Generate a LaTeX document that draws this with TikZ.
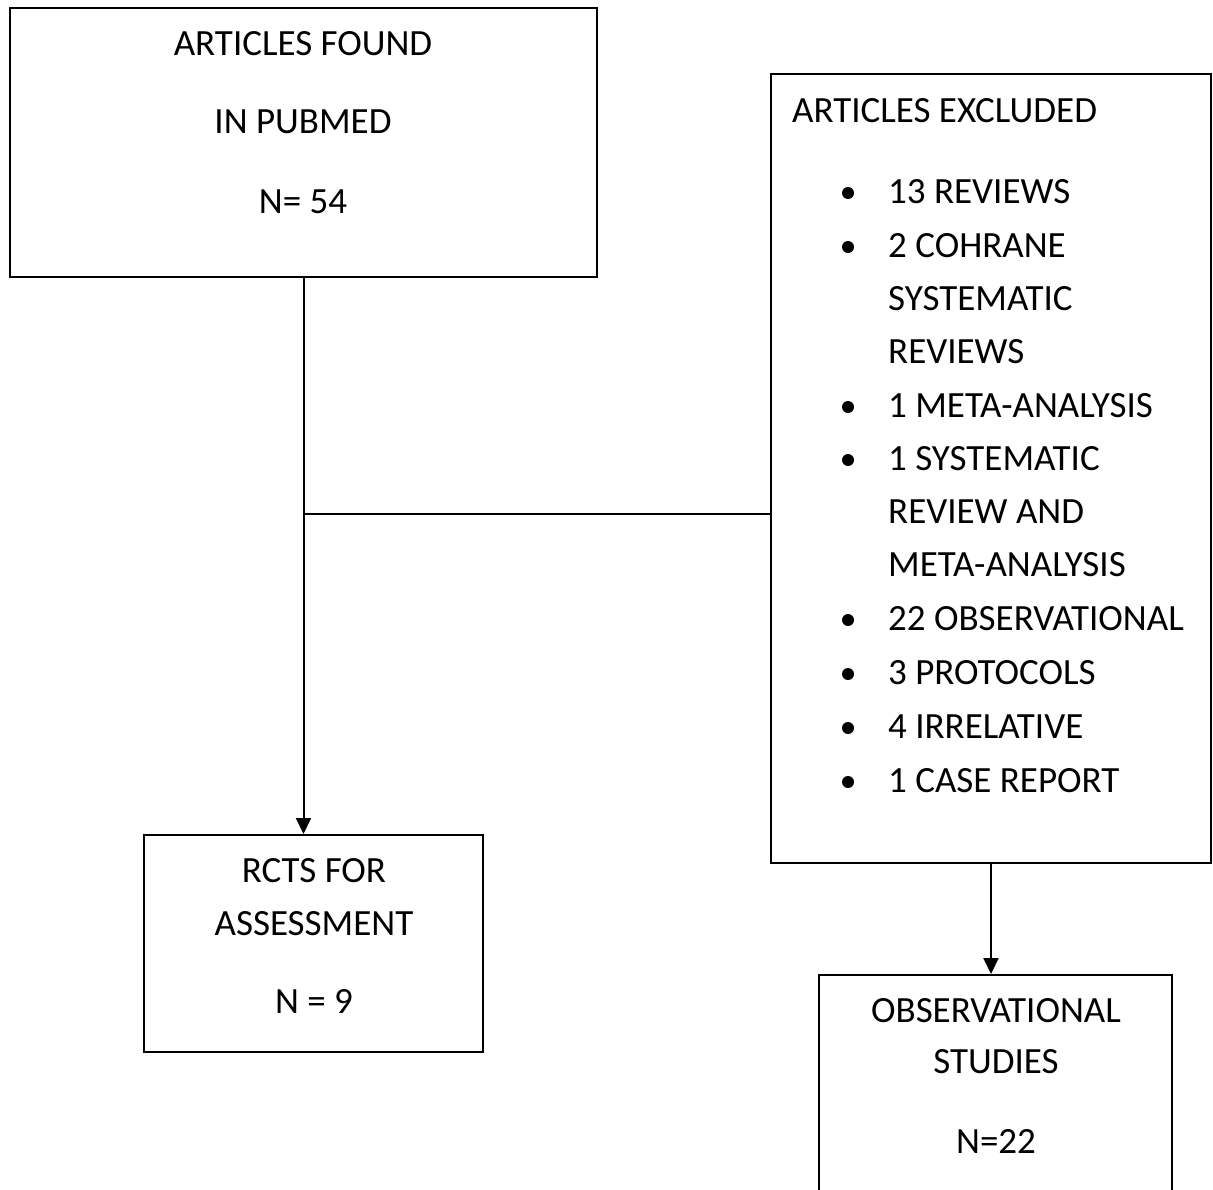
\documentclass[tikz,border=0pt]{standalone}
\usepackage{fontspec}
\setmainfont{Carlito}
\usetikzlibrary{arrows.meta}
\begin{document}
\begin{tikzpicture}[x=1pt,y=-1pt,
  box/.style={draw=black,line width=2pt,rectangle,inner sep=0pt},
  txt/.style={inner sep=0pt,anchor=base,font=\fontsize{37}{44}\selectfont},
  ltxt/.style={inner sep=0pt,anchor=base west,font=\fontsize{37}{44}\selectfont},
  bul/.style={circle,fill=black,inner sep=0pt,minimum size=12pt},
  conn/.style={line width=2pt},
  arr/.style={line width=2pt,-{Triangle[length=16pt,width=15pt]}}]
\useasboundingbox (0,0) rectangle (1213,1189);
\clip (0,0) rectangle (1213,1189);
% boxes
\node[box,minimum width=587pt,minimum height=269pt] (A) at (303.5,142.5) {};
\node[box,minimum width=339pt,minimum height=217pt] (B) at (313.5,943.5) {};
\node[box,minimum width=440pt,minimum height=789pt] (C) at (991,468.5) {};
\node[box,minimum width=353pt,minimum height=300pt] (D) at (995.5,1125) {};
% box A text
\node[txt] (a1) at (303,55) {ARTICLES FOUND};
\node[txt] (a2) at (303,133) {IN PUBMED};
\node[txt] (a3) at (303,213) {N= 54};
% box B text
\node[txt] (b1) at (314,882) {RCTS FOR};
\node[txt] (b2) at (314,935) {ASSESSMENT};
\node[txt] (b3) at (314,1013) {N = 9};
% box D text
\node[txt] (d1) at (996,1022) {OBSERVATIONAL};
\node[txt] (d2) at (996,1073) {STUDIES};
\node[txt] (d3) at (996,1153) {N=22};
% box C text
\node[ltxt] (c0) at (792,122) {ARTICLES EXCLUDED};
\node[ltxt] (c1) at (888,203) {13 REVIEWS};
\node[ltxt] (c2) at (888,257) {2 COHRANE};
\node[ltxt] (c3) at (888,310) {SYSTEMATIC};
\node[ltxt] (c4) at (888,363) {REVIEWS};
\node[ltxt] (c5) at (888,417) {1 META-ANALYSIS};
\node[ltxt] (c6) at (888,470) {1 SYSTEMATIC};
\node[ltxt] (c7) at (888,523) {REVIEW AND};
\node[ltxt] (c8) at (888,576) {META-ANALYSIS};
\node[ltxt] (c9) at (888,630) {22 OBSERVATIONAL};
\node[ltxt] (c10) at (888,684) {3 PROTOCOLS};
\node[ltxt] (c11) at (888,738) {4 IRRELATIVE};
\node[ltxt] (c12) at (888,792) {1 CASE REPORT};
% bullets
\node[bul] (u1) at (848,193) {};
\node[bul] (u2) at (848,247) {};
\node[bul] (u3) at (848,407) {};
\node[bul] (u4) at (848,460) {};
\node[bul] (u5) at (848,620) {};
\node[bul] (u6) at (848,674) {};
\node[bul] (u7) at (848,728) {};
\node[bul] (u8) at (848,782) {};
% connectors
\coordinate (J) at (A.south |- 0,514);
\draw[arr] (A.south) -- (A.south |- B.north);
\draw[conn] (J) -- (C.west |- J);
\draw[arr] (C.south) -- (C.south |- D.north);
\end{tikzpicture}
\end{document}
